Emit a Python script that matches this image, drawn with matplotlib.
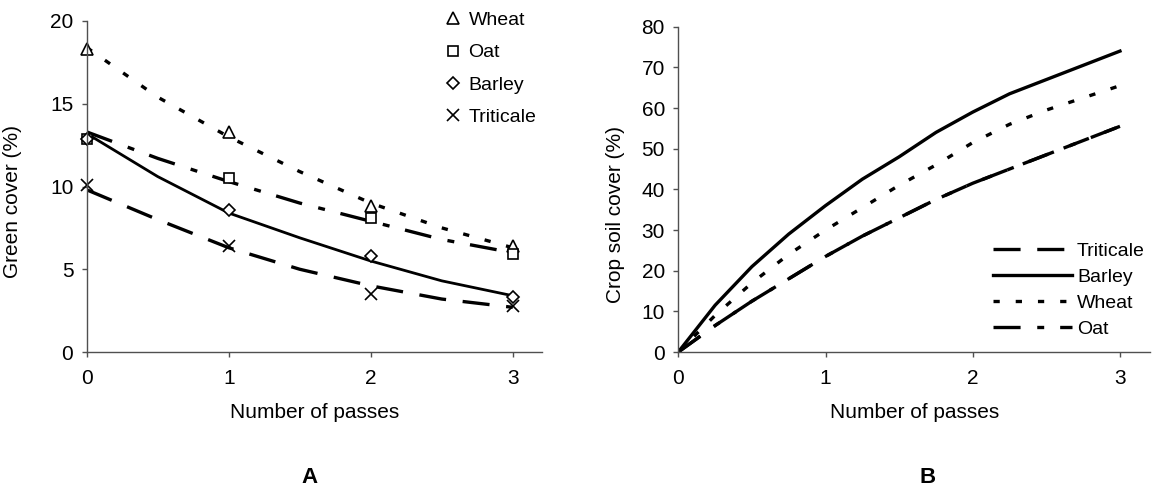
import numpy as np
import matplotlib
matplotlib.use('Agg')
import matplotlib.pyplot as plt

plt.rcParams['font.family'] = ['Liberation Sans', 'DejaVu Sans']
plt.rcParams['lines.scale_dashes'] = False

# Panel A: measured points
passes = [0, 1, 2, 3]
wheat_pts = [18.3, 13.3, 8.8, 6.4]
oat_pts = [12.9, 10.5, 8.1, 5.9]
barley_pts = [12.9, 8.6, 5.8, 3.3]
triticale_pts = [10.1, 6.4, 3.5, 2.8]

# Panel A: fitted curves
curve_x_a = [0, 0.5, 1, 1.5, 2, 2.5, 3]
wheat_fit = [18.4, 15.4, 13.0, 10.9, 9.0, 7.5, 6.3]
oat_fit = [13.3, 11.7, 10.3, 9.0, 7.9, 6.8, 6.0]
barley_fit = [13.2, 10.6, 8.4, 6.9, 5.5, 4.3, 3.4]
triticale_fit = [9.8, 8.0, 6.3, 5.0, 4.0, 3.2, 2.7]

# Panel B: crop soil cover curves
curve_x_b = [0, 0.25, 0.5, 0.75, 1, 1.25, 1.5, 1.75, 2, 2.25, 2.5, 2.75, 3]
barley_b = [0, 11.5, 21, 29, 36, 42.5, 48, 54, 59, 63.5, 67, 70.5, 74]
wheat_b = [0, 9, 17, 24, 30, 35.5, 41, 46, 51.5, 56, 59.5, 62.5, 65.5]
oat_b = [0, 6.5, 12.5, 18, 23.5, 28.5, 33, 37.5, 41.5, 45, 48.5, 52, 55.5]
triticale_b = [0, 6.5, 12.5, 18, 23.5, 28.5, 33, 37.5, 41.5, 45, 48.5, 52, 55.5]

# dash patterns in points
dotted = (0, (4.5, 11.5))
longdash = (0, (19.5, 12))
dashdot = (0, (19.5, 12, 5, 11.5))

W, H = 1152, 488
fig = plt.figure(figsize=(W / 100, H / 100), dpi=100)
ax1 = fig.add_axes([86.7 / W, (H - 352) / H, 455 / W, 331 / H])
ax2 = fig.add_axes([678.3 / W, (H - 352) / H, 471.7 / W, 325.3 / H])

# ---- panel A
ax1.plot(curve_x_a, wheat_fit, color='black', lw=2.4, linestyle=dotted)
ax1.plot(curve_x_a, oat_fit, color='black', lw=2.4, linestyle=dashdot)
ax1.plot(curve_x_a, barley_fit, color='black', lw=2.0, linestyle='-')
ax1.plot(curve_x_a, triticale_fit, color='black', lw=2.4, linestyle=longdash)

mk = dict(color='black', markerfacecolor='white', markeredgecolor='black',
          linestyle='none', markeredgewidth=1.2, clip_on=False)
ax1.plot(passes, wheat_pts, marker='^', markersize=8.5, label='Wheat', **mk)
ax1.plot(passes, oat_pts, marker='s', markersize=7, label='Oat', **mk)
ax1.plot(passes, barley_pts, marker='D', markersize=6.5, label='Barley', **mk)
ax1.plot(passes, triticale_pts, marker='x', markersize=9, label='Triticale', **mk)

ax1.set_xlim(0, 3.204)
ax1.set_ylim(0, 20)
ax1.set_xticks(passes)
ax1.set_yticks([0, 5, 10, 15, 20])
ax1.set_ylabel('Green cover (%)', fontsize=15)
ax1.set_xlabel('Number of passes', fontsize=15)
# label anchor = right edge of the rotated text
ax1.yaxis.set_label_coords(-0.142, 0.456)
ax1.xaxis.set_label_coords(0.5, -0.154)

ax1.legend(loc='upper left', bbox_to_anchor=(445 / W, 1 - 11.5 / H),
           bbox_transform=fig.transFigure, frameon=False,
           fontsize=14, handlelength=0.8, handletextpad=0.41,
           labelspacing=0.756, borderpad=0, borderaxespad=0)

# ---- panel B
ax2.plot(curve_x_b, triticale_b, color='black', lw=2.4, linestyle=longdash, label='Triticale')
ax2.plot(curve_x_b, barley_b, color='black', lw=2.4, linestyle='-', label='Barley')
ax2.plot(curve_x_b, wheat_b, color='black', lw=2.4, linestyle=dotted, label='Wheat')
ax2.plot(curve_x_b, oat_b, color='black', lw=2.4, linestyle=dashdot, label='Oat')

ax2.set_xlim(0, 3.204)
ax2.set_ylim(0, 80)
ax2.set_xticks(passes)
ax2.set_yticks(range(0, 81, 10))
ax2.set_ylabel('Crop soil cover (%)', fontsize=15)
ax2.set_xlabel('Number of passes', fontsize=15)
ax2.yaxis.set_label_coords(-0.113, 0.424)
ax2.xaxis.set_label_coords(0.5, -0.157)

ax2.legend(loc='upper left', bbox_to_anchor=(993 / W, 1 - 242.5 / H),
           bbox_transform=fig.transFigure, frameon=False,
           fontsize=14, handlelength=4.06, handletextpad=0.26,
           labelspacing=0.43, borderpad=0, borderaxespad=0)

for ax in (ax1, ax2):
    for side in ('top', 'right'):
        ax.spines[side].set_visible(False)
    for side in ('left', 'bottom'):
        ax.spines[side].set_color('#505050')
        ax.spines[side].set_linewidth(1.0)
    ax.tick_params(direction='out', length=3.6, width=1.0, color='#505050',
                   labelsize=15)
    ax.tick_params(axis='x', pad=9)
    ax.tick_params(axis='y', pad=6)

fig.text(310 / W, 5 / H, 'A', fontsize=16, fontweight='bold', ha='center', va='baseline')
fig.text(928 / W, 5 / H, 'B', fontsize=16, fontweight='bold', ha='center', va='baseline')

fig.savefig('out.png', dpi=100)
